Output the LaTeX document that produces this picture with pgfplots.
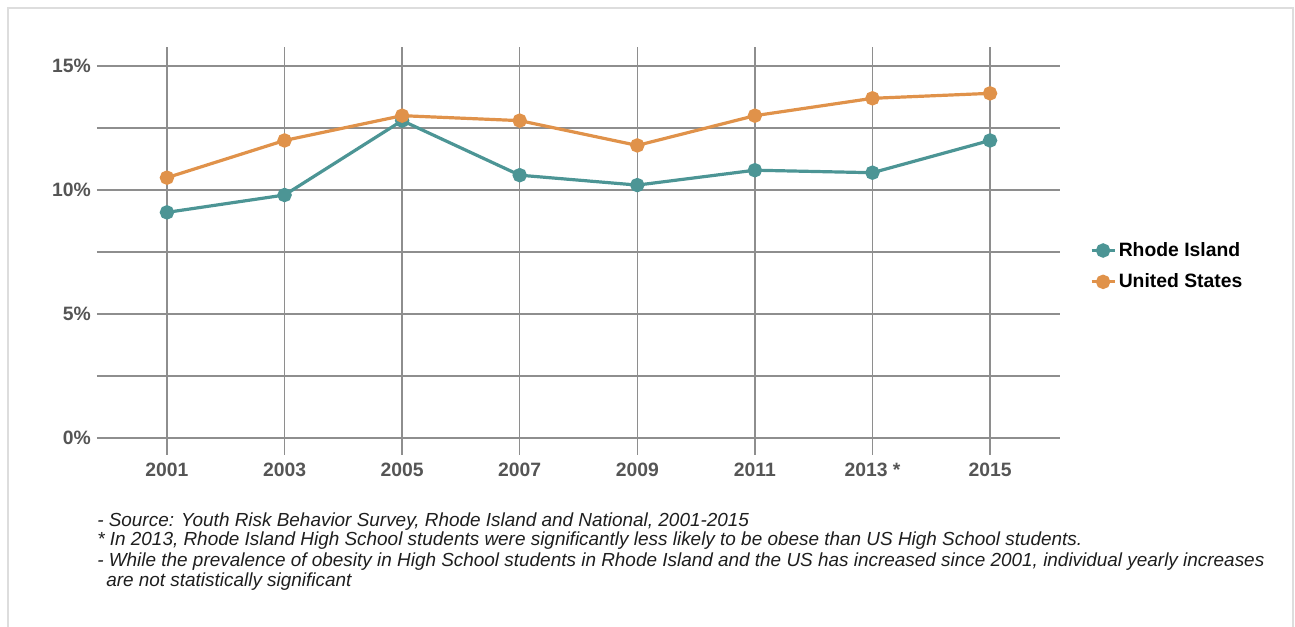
\documentclass[border=0pt]{standalone}
\usepackage{fontspec}
\setmainfont{Liberation Sans}
\usepackage{pgfplots}
\pgfplotsset{compat=1.18}
\definecolor{teal1}{HTML}{4C9595}
\definecolor{orange1}{HTML}{E0924A}
\definecolor{gridc}{HTML}{8E8E8E}
\definecolor{tickc}{HTML}{555555}
\definecolor{framec}{HTML}{DDDDDD}
\definecolor{notec}{HTML}{1E1E1E}
\begin{document}
\begin{tikzpicture}
\useasboundingbox (0pt,0pt) rectangle (971.25pt,470.25pt);
\draw[framec, line width=1.5pt] (5.625pt,0pt) -- (5.625pt,464.6pt) -- (969.75pt,464.6pt) -- (969.75pt,0pt);
\begin{axis}[
 at={(72.75pt,129pt)}, anchor=south west, scale only axis,
 width=722.25pt, height=306pt,
 xmin=-0.595, xmax=7.595, ymin=-0.685, ymax=15.77,
 axis line style={draw=none},
 major tick style={draw=none},
 xtick={0,...,7}, xticklabels={2001,2003,2005,2007,2009,2011,2013 *,2015},
 ytick={0,2.5,5,7.5,10,12.5,15}, yticklabels={0\%,,5\%,,10\%,,15\%},
 grid=major, major grid style={draw=gridc, line width=1.1pt},
 ticklabel style={font=\fontsize{14.5}{16}\selectfont\bfseries, text=tickc, inner sep=0pt},
 xticklabel style={anchor=north},
 xticklabel shift=6pt,
 yticklabel style={anchor=east},
 yticklabel shift=4.5pt,
 legend style={at={(1.031,0.528)}, anchor=north west, draw=none, fill=none, font=\fontsize{14.5}{16}\selectfont\bfseries, row sep=7.5pt, inner sep=0pt},
 legend cell align=left,
 clip=false,
]
\addplot[teal1, line width=2.4pt, mark=*, mark size=4.2pt, mark options={solid, fill=teal1}] coordinates {
(0,9.1) (1,9.8) (2,12.8) (3,10.6) (4,10.2) (5,10.8) (6,10.7) (7,12.0)};
\addlegendentry{Rhode Island}
\addplot[orange1, line width=2.4pt, mark=*, mark size=4.2pt, mark options={solid, fill=orange1}] coordinates {
(0,10.5) (1,12.0) (2,13.0) (3,12.8) (4,11.8) (5,13.0) (6,13.7) (7,13.9)};
\addlegendentry{United States}
\end{axis}
\begin{scope}[x=0.75pt,y=0.75pt,every node/.style={anchor=base west, inner sep=0pt, font=\fontsize{14.2}{16}\selectfont\itshape, text=notec}]
\node at (97,100) {- Source: Youth Risk Behavior Survey, Rhode Island and National, 2001-2015};
\node at (97,81) {* In 2013, Rhode Island High School students were significantly less likely to be obese than US High School students.};
\node at (97,60) {- While the prevalence of obesity in High School students in Rhode Island and the US has increased since 2001, individual yearly increases};
\node at (106,40) {are not statistically significant};
\end{scope}
\end{tikzpicture}
\end{document}
